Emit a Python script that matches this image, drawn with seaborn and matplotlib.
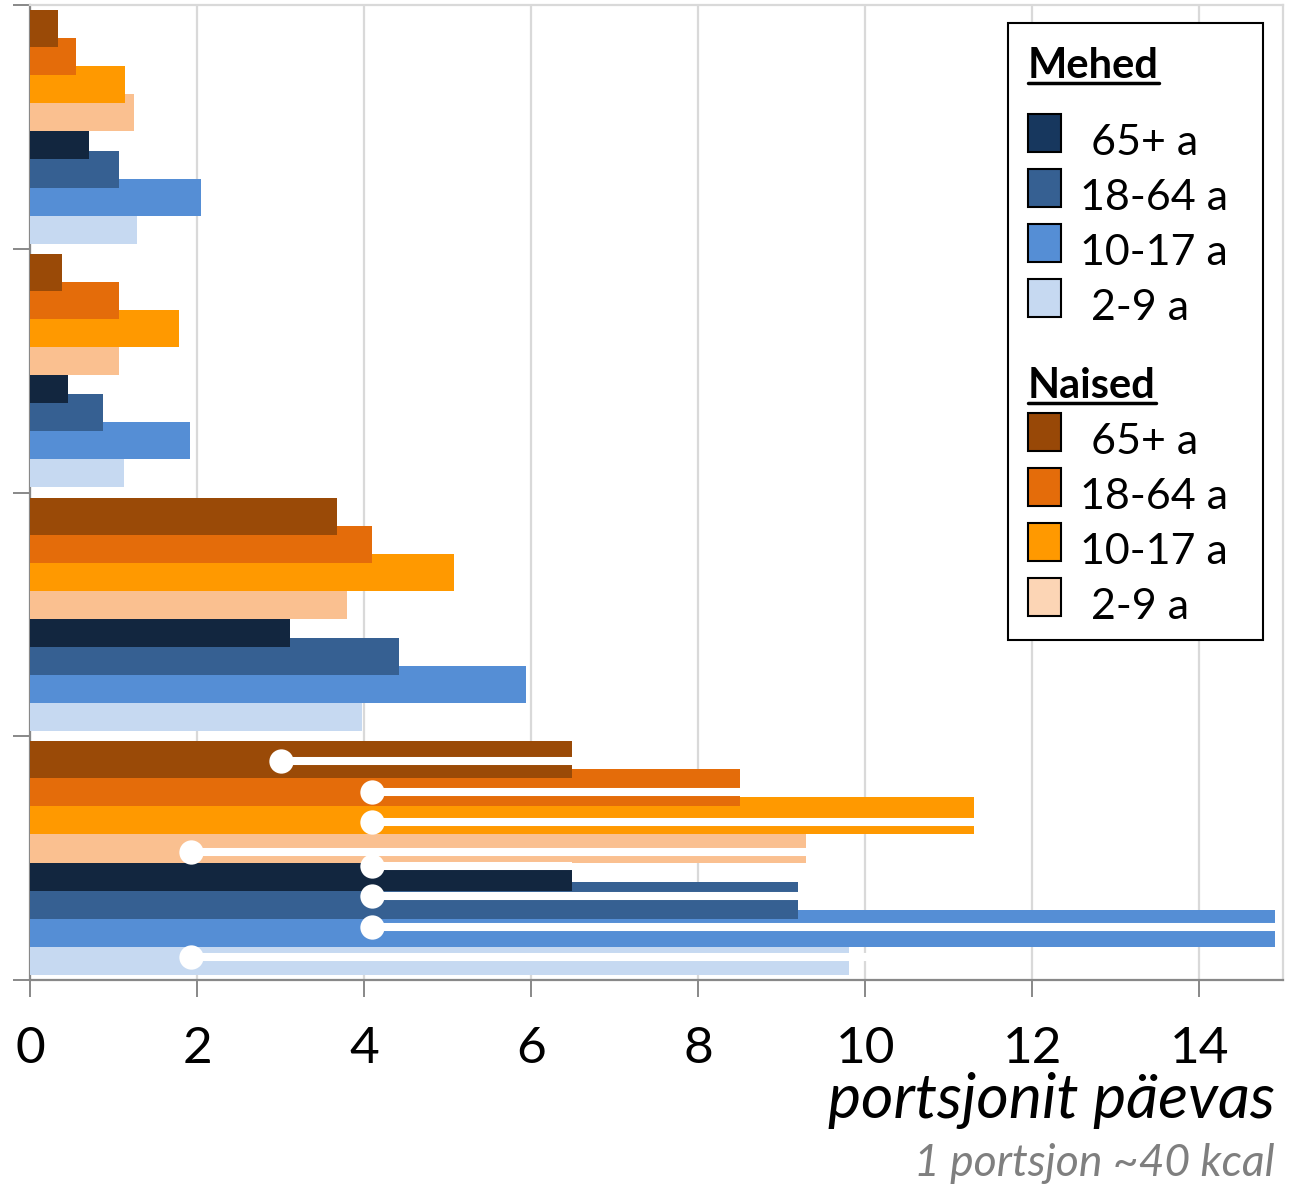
import numpy as np
import pandas as pd
import matplotlib
matplotlib.use("Agg")
import matplotlib.pyplot as plt
import seaborn as sns
from matplotlib.patches import Rectangle
from matplotlib.lines import Line2D

# ---------------- data ----------------
groups = ["1", "2", "3", "4"]
series = ["Naised 65+ a", "Naised 18-64 a", "Naised 10-17 a", "Naised 2-9 a",
          "Mehed 65+ a", "Mehed 18-64 a", "Mehed 10-17 a", "Mehed 2-9 a"]

naised_65 = [0.34, 0.38, 3.68, 6.49]
naised_18 = [0.55, 1.06, 4.10, 8.50]
naised_10 = [1.14, 1.78, 5.08, 11.30]
naised_2 = [1.24, 1.06, 3.80, 9.29]
mehed_65 = [0.71, 0.45, 3.11, 6.49]
mehed_18 = [1.06, 0.87, 4.42, 9.19]
mehed_10 = [2.05, 1.92, 5.94, 14.90]
mehed_2 = [1.28, 1.12, 3.97, 9.80]

# range lines in the last group (start dot -> end)
range_start = [3.01, 4.09, 4.09, 1.93, 4.09, 4.09, 4.09, 1.93]
range_end = [6.49, 8.50, 11.30, 9.29, 6.49, 9.19, 14.90, 10.20]

x_ticks = [0, 2, 4, 6, 8, 10, 12, 14]
x_label = "portsjonit päevas"
x_note = "1 portsjon ~40 kcal"

legend_groups = ["Mehed", "Naised"]
legend_ages = [" 65+ a", "18-64 a", "10-17 a", " 2-9 a"]

bar_colors = ["#9A4A07", "#E46C0A", "#FF9900", "#FAC090",
              "#12263F", "#366092", "#558ED5", "#C6D9F1"]
legend_colors_m = ["#17375E", "#366092", "#558ED5", "#C6D9F1"]
legend_colors_n = ["#984807", "#E46C0A", "#FF9900", "#FCD5B5"]

values = [naised_65, naised_18, naised_10, naised_2,
          mehed_65, mehed_18, mehed_10, mehed_2]
df = pd.DataFrame({
    "group": np.repeat([groups], len(series), axis=0).ravel(),
    "series": np.repeat(series, len(groups)),
    "value": np.concatenate(values),
})

# ---------------- style ----------------
sns.set_theme(style="white")
plt.rcParams["font.family"] = ["Lato", "DejaVu Sans"]

W, H = 1290, 1185
fig = plt.figure(figsize=(W / 100, H / 100), dpi=100)
ax = fig.add_axes([30 / W, (H - 980) / H, 1253 / W, 975 / H])

sns.barplot(data=df, x="value", y="group", hue="series", hue_order=series,
            order=groups, palette=bar_colors, orient="h", width=0.922,
            dodge=True, saturation=1, linewidth=0, legend=False, ax=ax)

# bars are taller than their slot and overlap the next one below
grow = 37 / 28.1
for i, cont in enumerate(ax.containers):
    for bar in cont:
        h = bar.get_height()
        nh = h * grow
        bar.set_y(bar.get_y() - (nh - h) / 2)
        bar.set_height(nh)
        bar.set_zorder(10 - i * 0.1)

# white range lines with start dots in the last group
step = 0.1242
last = len(groups) - 1
line_y = [last - 0.3975 + step * k for k in range(4)] + \
         [last + 0.033 + step * k for k in range(4)]
for y, s, e in zip(line_y, range_start, range_end):
    ax.plot([s, e], [y, y], color="white", lw=5.8, solid_capstyle="butt", zorder=20)
sns.scatterplot(x=range_start, y=line_y, color="white", s=17.5 ** 2,
                linewidth=0, zorder=21, ax=ax, legend=False)

ax.set_xlim(0, 15)
ax.set_ylim(len(groups) - 0.5, -0.5)
ax.set_xticks(x_ticks)
ax.set_xticklabels([str(t) for t in x_ticks])
ax.set_yticks(np.arange(len(groups) + 1) - 0.5)
ax.set_yticklabels([])
ax.set_xlabel("")
ax.set_ylabel("")

ax.set_axisbelow(True)
ax.xaxis.grid(True, color="#D9D9D9", lw=1.6)
ax.yaxis.grid(False)
for side in ["left", "bottom"]:
    ax.spines[side].set_color("#888888")
    ax.spines[side].set_linewidth(1.6)
for side in ["top", "right"]:
    ax.spines[side].set_color("#D9D9D9")
    ax.spines[side].set_linewidth(1.6)
ax.tick_params(axis="x", length=12, width=1.4, color="#888888", direction="out",
               bottom=True, pad=21, labelsize=37, labelcolor="black")
ax.tick_params(axis="y", length=12, width=1.4, color="#888888", direction="out",
               left=True)

def fx(x):
    return x / W

def fy(y):
    return 1 - y / H

fig.text(fx(1275), fy(1118), x_label, ha="right", va="baseline",
         fontsize=45, style="italic", color="black")
fig.text(fx(1275), fy(1176), x_note, ha="right", va="baseline",
         fontsize=32, style="italic", color="#7F7F7F")

# ---------------- legend ----------------
box = Rectangle((fx(1008), fy(640)), fx(1263) - fx(1008), fy(23) - fy(640),
                transform=fig.transFigure, facecolor="white", edgecolor="black",
                lw=1.5, zorder=30)
fig.patches.append(box)

header_y = [78, 398]
first_swatch = [133, 432]
row = 55
col_sets = [legend_colors_m, legend_colors_n]
headers = []
for gi, name in enumerate(legend_groups):
    t = fig.text(fx(1028), fy(header_y[gi]), name, ha="left", va="baseline",
                 fontsize=30, fontweight="bold", color="black", zorder=31)
    headers.append((t, header_y[gi]))
    for k, lab in enumerate(legend_ages):
        cy = first_swatch[gi] + row * k
        sw = Rectangle((fx(1028), fy(cy + 19)), fx(1061) - fx(1028), fy(cy - 19) - fy(cy + 19),
                       transform=fig.transFigure, facecolor=col_sets[gi][k],
                       edgecolor="black", lw=1.5, zorder=31)
        fig.patches.append(sw)
        fig.text(fx(1080), fy(cy + 22), lab, ha="left", va="baseline",
                 fontsize=31, color="black", zorder=31)

fig.canvas.draw()
for t, hy in headers:
    bb = t.get_window_extent()
    ul = Line2D([bb.x0 / W, bb.x1 / W], [fy(hy + 5), fy(hy + 5)],
                transform=fig.transFigure, color="black", lw=2.5, zorder=32)
    fig.lines.append(ul)

fig.savefig("out.png", dpi=100)
